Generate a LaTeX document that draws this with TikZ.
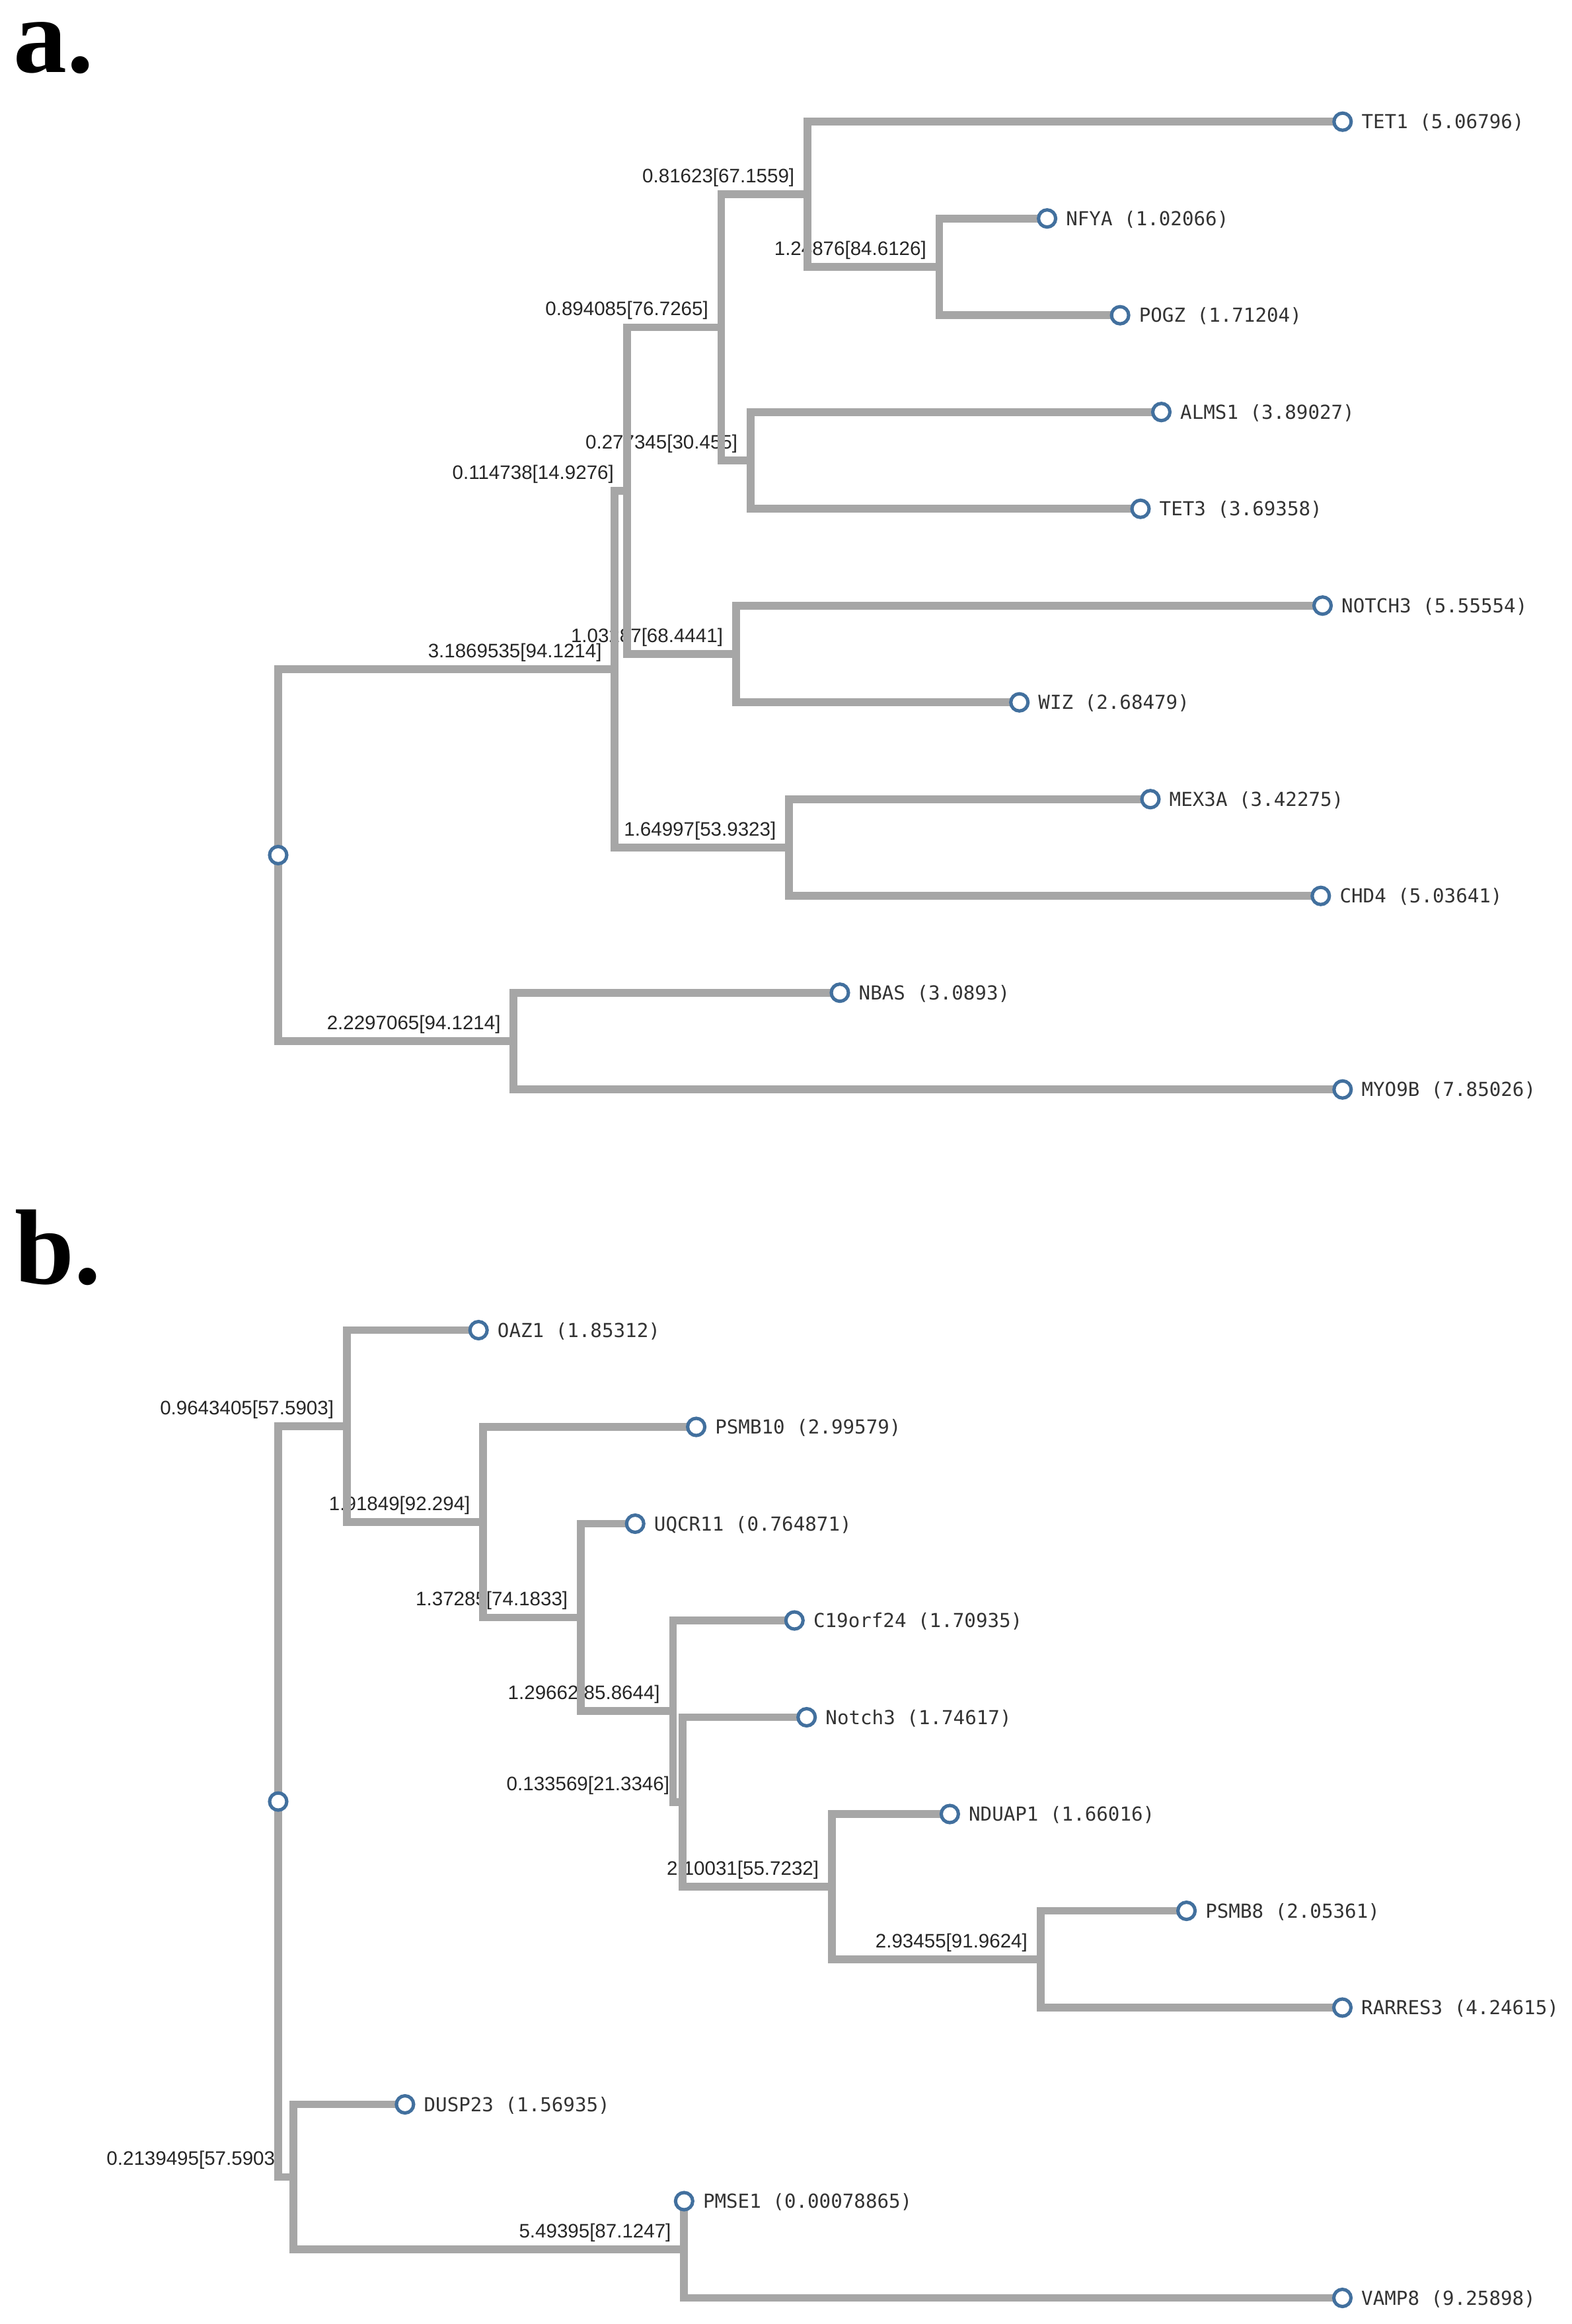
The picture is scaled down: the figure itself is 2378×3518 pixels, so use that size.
\documentclass[tikz,border=0pt]{standalone}
\usepackage{fontspec}
\setmainfont{Liberation Sans}
\newfontfamily\monof{DejaVu Sans Mono}
\newfontfamily\serifb{Liberation Serif}
\definecolor{treegray}{RGB}{166,166,166}
\definecolor{nodeblue}{RGB}{66,112,158}
\begin{document}
\begin{tikzpicture}[x=0.01cm,y=-0.01cm,
  br/.style={draw=treegray, line width=3.35pt, line join=miter, line cap=butt},
  blab/.style={anchor=base east, inner sep=0pt, font=\fontsize{8.4pt}{8.4pt}\selectfont, text=black!85},
  leafc/.style={circle, draw=nodeblue, fill=white, line width=1.45pt, minimum size=0.26cm, inner sep=0pt},
  leaflab/.style={anchor=base west, inner sep=0pt, font=\monof\fontsize{8.3pt}{8.3pt}\selectfont, text=black!80},
  panel/.style={anchor=base west, inner sep=0pt, font=\serifb\bfseries\fontsize{46pt}{46pt}\selectfont}]
\useasboundingbox (0,0) rectangle (2378,3518);

% ---------------- panel a: coordinates ----------------
\coordinate (ra) at (421,1294.4);
\coordinate (aA) at (930.3,1012.8);
\coordinate (aB) at (777.3,1575.95);
\coordinate (aC) at (948.6,742.7);
\coordinate (aD) at (1194.0,1282.95);
\coordinate (aE) at (1091.5,495.5);
\coordinate (aF) at (1113.7,989.95);
\coordinate (aG) at (1221.9,294.1);
\coordinate (aH) at (1135.8,696.95);
\coordinate (aI) at (1421.5,403.95);
\coordinate (TET1) at (2031.8,184.2);
\coordinate (NFYA) at (1584.6,330.7);
\coordinate (POGZ) at (1695.1,477.2);
\coordinate (ALMS1) at (1757.5,623.7);
\coordinate (TET3) at (1726.0,770.2);
\coordinate (NOTCH3) at (2001.5,916.7);
\coordinate (WIZ) at (1542.7,1063.2);
\coordinate (MEX3A) at (1741.0,1209.7);
\coordinate (CHD4) at (1998.8,1356.2);
\coordinate (NBAS) at (1271.0,1502.7);
\coordinate (MYO9B) at (2031.8,1649.2);

% ---------------- panel b: coordinates ----------------
\coordinate (rb) at (421,2727.1);
\coordinate (bK) at (524.8,2158.85);
\coordinate (bM) at (731.2,2304.2);
\coordinate (bN) at (878.9,2448.4);
\coordinate (bO) at (1018.4,2590.35);
\coordinate (bP) at (1032.8,2727.7);
\coordinate (bQ) at (1258.8,2855.9);
\coordinate (bR) at (1574.6,2965.75);
\coordinate (bL) at (444.0,3295.4);
\coordinate (bS) at (1035.2,3405.25);
\coordinate (OAZ1) at (724.2,2013.5);
\coordinate (PSMB10) at (1053.6,2160);
\coordinate (UQCR11) at (961.2,2306.5);
\coordinate (C19orf24) at (1202.3,2453);
\coordinate (Notch3b) at (1220.7,2599.5);
\coordinate (NDUAP1) at (1437.4,2746);
\coordinate (PSMB8) at (1795.6,2892.5);
\coordinate (RARRES3) at (2031.5,3039);
\coordinate (DUSP23) at (612.9,3185.5);
\coordinate (PMSE1) at (1035.3,3332);
\coordinate (VAMP8) at (2031.5,3478.5);

% ---------------- panel letters ----------------
\node[panel] (la) at (20,110) {a.};
\node[panel] (lb) at (22,1943) {b.};

% ---------------- branch labels ----------------
\begin{scope}[every node/.style={blab}]
\node (tA) at ([xshift=-0.19cm,yshift=0.175cm]aA) {3.1869535[94.1214]};
\node (tB) at ([xshift=-0.19cm,yshift=0.175cm]aB) {2.2297065[94.1214]};
\node (tC) at ([xshift=-0.19cm,yshift=0.175cm]aC) {0.114738[14.9276]};
\node (tD) at ([xshift=-0.19cm,yshift=0.175cm]aD) {1.64997[53.9323]};
\node (tE) at ([xshift=-0.19cm,yshift=0.175cm]aE) {0.894085[76.7265]};
\node (tF) at ([xshift=-0.19cm,yshift=0.175cm]aF) {1.03287[68.4441]};
\node (tG) at ([xshift=-0.19cm,yshift=0.175cm]aG) {0.81623[67.1559]};
\node (tH) at ([xshift=-0.19cm,yshift=0.175cm]aH) {0.277345[30.455]};
\node (tI) at ([xshift=-0.19cm,yshift=0.175cm]aI) {1.24876[84.6126]};
\node (tK) at ([xshift=-0.19cm,yshift=0.175cm]bK) {0.9643405[57.5903]};
\node (tM) at ([xshift=-0.19cm,yshift=0.175cm]bM) {1.91849[92.294]};
\node (tN) at ([xshift=-0.19cm,yshift=0.175cm]bN) {1.37285[74.1833]};
\node (tO) at ([xshift=-0.19cm,yshift=0.175cm]bO) {1.29662[85.8644]};
\node (tP) at ([xshift=-0.19cm,yshift=0.175cm]bP) {0.133569[21.3346]};
\node (tQ) at ([xshift=-0.19cm,yshift=0.175cm]bQ) {2.10031[55.7232]};
\node (tR) at ([xshift=-0.19cm,yshift=0.175cm]bR) {2.93455[91.9624]};
\node (tL) at ([xshift=-0.19cm,yshift=0.175cm]bL) {0.2139495[57.5903]};
\node (tS) at ([xshift=-0.19cm,yshift=0.175cm]bS) {5.49395[87.1247]};
\end{scope}

% ---------------- branches panel a ----------------
\draw[br] (ra) |- (aA);
\draw[br] (ra) |- (aB);
\draw[br] (aA) |- (aC);
\draw[br] (aA) |- (aD);
\draw[br] (aC) |- (aE);
\draw[br] (aC) |- (aF);
\draw[br] (aE) |- (aG);
\draw[br] (aE) |- (aH);
\draw[br] (aG) |- (TET1);
\draw[br] (aG) |- (aI);
\draw[br] (aI) |- (NFYA);
\draw[br] (aI) |- (POGZ);
\draw[br] (aH) |- (ALMS1);
\draw[br] (aH) |- (TET3);
\draw[br] (aF) |- (NOTCH3);
\draw[br] (aF) |- (WIZ);
\draw[br] (aD) |- (MEX3A);
\draw[br] (aD) |- (CHD4);
\draw[br] (aB) |- (NBAS);
\draw[br] (aB) |- (MYO9B);

% ---------------- branches panel b ----------------
\draw[br] (rb) |- (bK);
\draw[br] (rb) |- (bL);
\draw[br] (bK) |- (OAZ1);
\draw[br] (bK) |- (bM);
\draw[br] (bM) |- (PSMB10);
\draw[br] (bM) |- (bN);
\draw[br] (bN) |- (UQCR11);
\draw[br] (bN) |- (bO);
\draw[br] (bO) |- (C19orf24);
\draw[br] (bO) |- (bP);
\draw[br] (bP) |- (Notch3b);
\draw[br] (bP) |- (bQ);
\draw[br] (bQ) |- (NDUAP1);
\draw[br] (bQ) |- (bR);
\draw[br] (bR) |- (PSMB8);
\draw[br] (bR) |- (RARRES3);
\draw[br] (bL) |- (DUSP23);
\draw[br] (bL) |- (bS);
\draw[br] (bS) |- (PMSE1);
\draw[br] (bS) |- (VAMP8);

% ---------------- node circles ----------------
\foreach \n in {ra,rb,TET1,NFYA,POGZ,ALMS1,TET3,NOTCH3,WIZ,MEX3A,CHD4,NBAS,MYO9B,
  OAZ1,PSMB10,UQCR11,C19orf24,Notch3b,NDUAP1,PSMB8,RARRES3,DUSP23,PMSE1,VAMP8}
  \node[leafc] (c\n) at (\n) {};

% ---------------- leaf labels ----------------
\begin{scope}[every node/.style={leaflab}]
\node (lTET1) at ([xshift=0.28cm,yshift=-0.106cm]TET1) {TET1 (5.06796)};
\node (lNFYA) at ([xshift=0.28cm,yshift=-0.106cm]NFYA) {NFYA (1.02066)};
\node (lPOGZ) at ([xshift=0.28cm,yshift=-0.106cm]POGZ) {POGZ (1.71204)};
\node (lALMS1) at ([xshift=0.28cm,yshift=-0.106cm]ALMS1) {ALMS1 (3.89027)};
\node (lTET3) at ([xshift=0.28cm,yshift=-0.106cm]TET3) {TET3 (3.69358)};
\node (lNOTCH3) at ([xshift=0.28cm,yshift=-0.106cm]NOTCH3) {NOTCH3 (5.55554)};
\node (lWIZ) at ([xshift=0.28cm,yshift=-0.106cm]WIZ) {WIZ (2.68479)};
\node (lMEX3A) at ([xshift=0.28cm,yshift=-0.106cm]MEX3A) {MEX3A (3.42275)};
\node (lCHD4) at ([xshift=0.28cm,yshift=-0.106cm]CHD4) {CHD4 (5.03641)};
\node (lNBAS) at ([xshift=0.28cm,yshift=-0.106cm]NBAS) {NBAS (3.0893)};
\node (lMYO9B) at ([xshift=0.28cm,yshift=-0.106cm]MYO9B) {MYO9B (7.85026)};
\node (lOAZ1) at ([xshift=0.28cm,yshift=-0.106cm]OAZ1) {OAZ1 (1.85312)};
\node (lPSMB10) at ([xshift=0.28cm,yshift=-0.106cm]PSMB10) {PSMB10 (2.99579)};
\node (lUQCR11) at ([xshift=0.28cm,yshift=-0.106cm]UQCR11) {UQCR11 (0.764871)};
\node (lC19orf24) at ([xshift=0.28cm,yshift=-0.106cm]C19orf24) {C19orf24 (1.70935)};
\node (lNotch3b) at ([xshift=0.28cm,yshift=-0.106cm]Notch3b) {Notch3 (1.74617)};
\node (lNDUAP1) at ([xshift=0.28cm,yshift=-0.106cm]NDUAP1) {NDUAP1 (1.66016)};
\node (lPSMB8) at ([xshift=0.28cm,yshift=-0.106cm]PSMB8) {PSMB8 (2.05361)};
\node (lRARRES3) at ([xshift=0.28cm,yshift=-0.106cm]RARRES3) {RARRES3 (4.24615)};
\node (lDUSP23) at ([xshift=0.28cm,yshift=-0.106cm]DUSP23) {DUSP23 (1.56935)};
\node (lPMSE1) at ([xshift=0.28cm,yshift=-0.106cm]PMSE1) {PMSE1 (0.00078865)};
\node (lVAMP8) at ([xshift=0.28cm,yshift=-0.106cm]VAMP8) {VAMP8 (9.25898)};
\end{scope}
\end{tikzpicture}
\end{document}
